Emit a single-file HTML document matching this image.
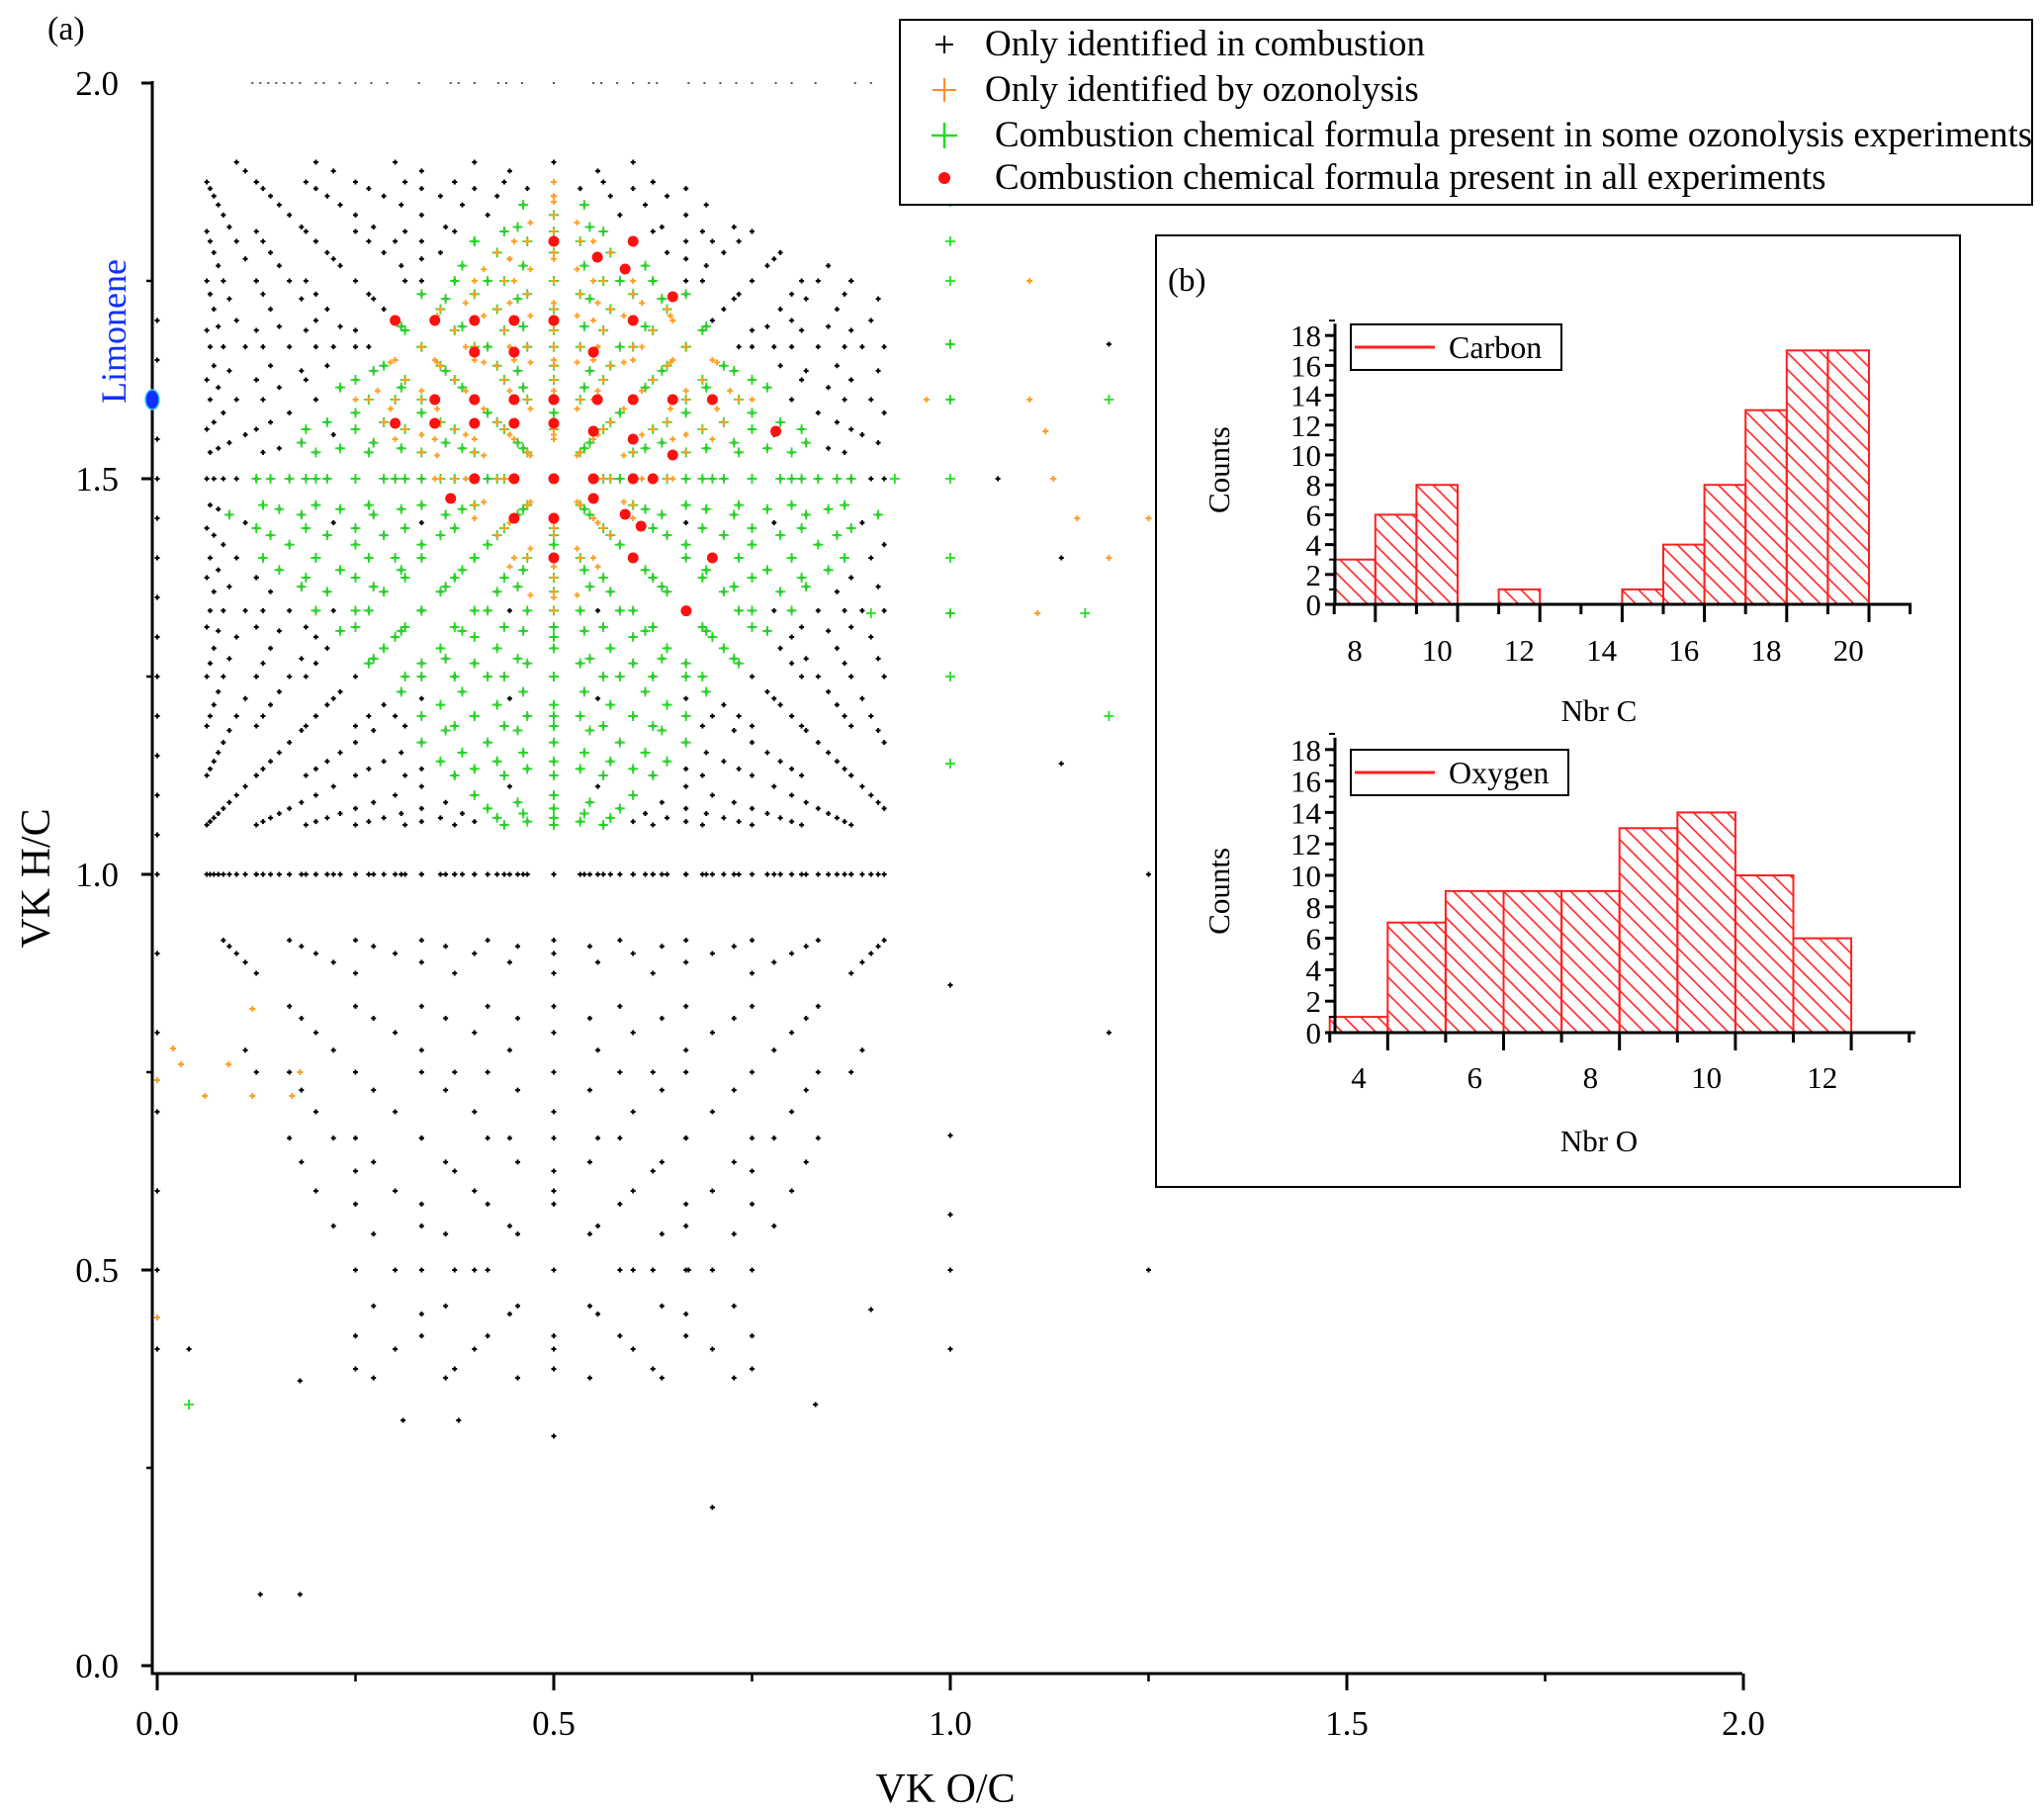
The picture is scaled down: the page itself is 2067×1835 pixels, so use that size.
<!DOCTYPE html>
<html><head><meta charset="utf-8">
<style>
html,body{margin:0;padding:0;background:#fff;}
svg{display:block;font-family:"Liberation Serif",serif;}
</style></head>
<body>
<svg id="chart" width="2067" height="1835" viewBox="0 0 2067 1835" xmlns="http://www.w3.org/2000/svg">
<defs>
<pattern id="hatch" patternUnits="userSpaceOnUse" width="12" height="12" patternTransform="rotate(45)">
<line x1="0" y1="6" x2="12" y2="6" stroke="#ff2020" stroke-width="1.6"/>
</pattern>
</defs>
<g id="main"></g>
<g id="legend">
<rect x="910" y="20" width="1145" height="187" fill="#fff" stroke="#000" stroke-width="2"/>
<g>
<path d="M946 45h18M955 36v18" stroke="#000" stroke-width="2"/>
<text x="996" y="56" font-size="37">Only identified in combustion</text></g>
<g>
<path d="M943 91h24M955 79v24" stroke="#ff8a30" stroke-width="2"/>
<text x="996" y="102" font-size="37">Only identified by ozonolysis</text></g>
<g>
<path d="M942 137h26M955 124v26" stroke="#22dd22" stroke-width="2.5"/>
<text x="1006" y="148" font-size="37">Combustion chemical formula present in some ozonolysis experiments</text></g>
<g>
<circle cx="955" cy="180" r="6" fill="#ff1010"/>
<text x="1006" y="191" font-size="37">Combustion chemical formula present in all experiments</text></g>
</g>
<g id="inset"></g>
</svg>
<script>
// ---------- data ----------
const carbonNumbers=[8,9,10,11,12,13,14,15,16];
const greenCarbonNumbers=[10,11,12,13,14,15,16];
const orangeCarbonNumbers=[14,15,16,17,18,20];
const redOC=[0.30,0.35,0.40,0.45,0.50,0.555,0.59,0.60,0.65,0.60,0.55,0.50,0.45,0.40,0.35,0.40,0.45,0.50,0.555,0.60,0.65,0.70,0.78,0.65,0.60,0.55,0.50,0.45,0.40,0.35,0.30,0.40,0.45,0.50,0.55,0.60,0.625,0.37,0.45,0.50,0.55,0.59,0.61,0.70,0.60,0.50,0.667];
const redHC=[1.70,1.70,1.70,1.66,1.80,1.78,1.765,1.80,1.73,1.70,1.66,1.70,1.70,1.66,1.60,1.60,1.60,1.60,1.60,1.60,1.60,1.60,1.56,1.53,1.55,1.56,1.57,1.57,1.57,1.57,1.57,1.50,1.50,1.50,1.50,1.50,1.50,1.475,1.45,1.45,1.475,1.455,1.44,1.40,1.40,1.40,1.333];
const topRowOC=[0.12,0.13,0.14,0.15,0.16,0.17,0.18,0.2,0.21,0.23,0.25,0.27,0.29,0.33,0.37,0.38,0.4,0.43,0.44,0.46,0.5,0.55,0.56,0.58,0.6,0.62,0.63,0.67,0.69,0.71,0.73,0.75,0.78,0.8,0.83,0.88,0.9,1.2,1.33];
const extraBlackOC=[0,0,0,0,0,0,0,0,0,0,0,0,0,0,0,0,0,0,0,0,1.0,1.0,1.0,1.0,1.0,1.0,1.0,1.0,1.0,1.2,1.2,1.25,1.25,1.17,1.14,1.33,1.33,0.7,0.13,0.18,0.31,0.38,0.83,0.04,0.18,0.5,0.9,0.67,1.14,1.06];
const extraBlackHC=[0.4,0.5,0.6,0.7,0.8,0.9,1.0,1.05,1.1,1.15,1.2,1.25,1.3,1.35,1.4,1.45,1.5,1.55,1.65,1.7,1.85,1.67,1.6,1.33,0.86,0.67,0.57,0.5,0.4,1.67,0.8,1.0,0.5,1.85,1.14,1.33,0.67,0.2,0.09,0.09,0.31,0.31,0.33,0.4,0.36,0.29,0.45,0.5,1.4,1.5];
const extraOrangeOC=[0,0.02,0.03,0.06,0.09,0.12,0.12,0.17,0.18,0.0,1.1,1.12,1.13,1.11,1.16,1.2,1.25,1.28,1.3,0.97,1.1];
const extraOrangeHC=[0.74,0.78,0.76,0.72,0.76,0.72,0.83,0.72,0.75,0.44,1.6,1.56,1.5,1.33,1.45,1.4,1.45,1.43,1.4,1.6,1.75];
const extraGreenOC=[1.0,1.0,1.0,1.0,1.0,1.0,1.0,1.0,1.0,1.0,1.2,1.2,1.17,0.04,0.9,0.93];
const extraGreenHC=[1.8,1.75,1.67,1.6,1.5,1.4,1.33,1.25,1.14,1.85,1.6,1.2,1.33,0.33,1.33,1.5];
const carbonBins=[8,9,10,12,15,16,17,18,19,20];
const carbonCounts=[3,6,8,1,1,4,8,13,17,17];
const oxygenBins=[4,5,6,7,8,9,10,11,12];
const oxygenCounts=[1,7,9,9,9,13,14,10,6];
const yTicks=[0,0.5,1.0,1.5,2.0];
const xTicks=[0,0.5,1.0,1.5,2.0];
const histYTicks=[0,2,4,6,8,10,12,14,16,18];
const carbonXTicks=[8,10,12,14,16,18,20];
const oxygenXTicks=[4,6,8,10,12];

const NS="http://www.w3.org/2000/svg";
function mk(parent,tag,attrs,name,text){
  const e=document.createElementNS(NS,tag);
  for(const k in attrs)e.setAttribute(k,attrs[k]);
  
  
  if(text!==undefined)e.textContent=text;
  parent.appendChild(e);return e;
}
const xs=v=>159+v*802;
const ys=v=>1684-v*800;
const main=document.getElementById('main');

// axes
mk(main,'line',{x1:154,y1:82,x2:154,y2:1693,stroke:'#000','stroke-width':3},'y-axis-line');
mk(main,'line',{x1:153,y1:1692,x2:1762,y2:1692,stroke:'#000','stroke-width':3},'x-axis-line');
yTicks.forEach(t=>{
  mk(main,'line',{x1:143,y1:ys(t),x2:154,y2:ys(t),stroke:'#000','stroke-width':3},'y-tick');
  mk(main,'text',{x:120,y:ys(t)+12,'font-size':35,'text-anchor':'end'},'y-tick-label',t.toFixed(1));
});
[0.25,0.75,1.25,1.75].forEach(t=>mk(main,'line',{x1:148,y1:ys(t),x2:154,y2:ys(t),stroke:'#000','stroke-width':2.5},'y-minor-tick'));
xTicks.forEach(t=>{
  mk(main,'line',{x1:xs(t),y1:1692,x2:xs(t),y2:1709,stroke:'#000','stroke-width':3},'x-tick');
  mk(main,'text',{x:xs(t),y:1754,'font-size':35,'text-anchor':'middle'},'x-tick-label',t.toFixed(1));
});
[0.25,0.75,1.25,1.75].forEach(t=>mk(main,'line',{x1:xs(t),y1:1692,x2:xs(t),y2:1700,stroke:'#000','stroke-width':2.5},'x-minor-tick'));
mk(main,'text',{x:956,y:1822,'font-size':42,'text-anchor':'middle'},'x-axis-title','VK O/C');
mk(main,'text',{x:0,y:0,'font-size':42,'text-anchor':'middle',transform:'translate(50,888) rotate(-90)'},'y-axis-title','VK H/C');
mk(main,'text',{x:48,y:40,'font-size':34},'panel-label-a','(a)');
mk(main,'text',{x:0,y:0,'font-size':36,'text-anchor':'middle',fill:'#1030ff',transform:'translate(127,335) rotate(-90)'},'limonene-label','Limonene');

function plus(g,oc,hc,s,col,w,name){
  const x=xs(oc),y=ys(hc);
  mk(g,'path',{d:`M${x-s} ${y}h${2*s}M${x} ${y-s}v${2*s}`,stroke:col,'stroke-width':w},name);
}
const gBlack=mk(main,'g',{},'series-combustion-only');
carbonNumbers.forEach(c=>{
  for(let o=0;o<=c;o++)for(let h=2;h<=2*c;h++){
    const oc=o/c,hc=h/c;
    let keep=false;
    if(hc>=1&&hc<=1.9&&oc>=0.06&&oc<=0.92&&hc<=1.9-0.5*Math.max(0,oc-0.6))keep=true;
    if(hc<1&&hc>=0.35&&c<=12&&Math.abs(oc-0.5)<=0.12+0.35*hc)keep=true;
    if(keep)plus(gBlack,oc,hc,2.5,'#000',2,'combustion-point');
  }
});
extraBlackOC.forEach((v,i)=>plus(gBlack,v,extraBlackHC[i],2.5,'#000',2,'combustion-point'));
topRowOC.forEach(v=>mk(gBlack,'rect',{x:xs(v)-1,y:ys(2.0)-1,width:2,height:2,fill:'#555'},'top-row-point'));

const gGreen=mk(main,'g',{},'series-some-experiments');
greenCarbonNumbers.forEach(c=>{
  for(let o=0;o<=c;o++)for(let h=2;h<=2*c;h++){
    const oc=o/c,hc=h/c;
    if(Math.abs(oc-0.5)/0.42+Math.abs(hc-1.45)/0.47<=1.0&&hc<=1.85&&hc>=1.02)plus(gGreen,oc,hc,5,'#22dd22',1.8,'some-experiments-point');
  }
});
extraGreenOC.forEach((v,i)=>plus(gGreen,v,extraGreenHC[i],5,'#22dd22',1.8,'some-experiments-point'));

const gOrange=mk(main,'g',{},'series-ozonolysis-only');
orangeCarbonNumbers.forEach(c=>{
  for(let o=0;o<=c;o++)for(let h=2;h<=2*c;h++){
    const oc=o/c,hc=h/c;
    if(Math.abs(oc-0.5)/0.25+Math.abs(hc-1.6)/0.28<=1.0)plus(gOrange,oc,hc,3,'#ffa020',2,'ozonolysis-point');
  }
});
extraOrangeOC.forEach((v,i)=>plus(gOrange,v,extraOrangeHC[i],3,'#ffa020',2,'ozonolysis-point'));

const gRed=mk(main,'g',{},'series-all-experiments');
redOC.forEach((v,i)=>mk(gRed,'circle',{cx:xs(v),cy:ys(redHC[i]),r:5.5,fill:'#ff1010'},'all-experiments-point'));
mk(main,'ellipse',{cx:154,cy:ys(1.6),rx:7,ry:10,fill:'#1030ff',stroke:'#40d0ff','stroke-width':1.5},'limonene-point');

// ---------- inset ----------
const inset=document.getElementById('inset');
mk(inset,'rect',{x:1169,y:238,width:813,height:962,fill:'#fff',stroke:'#000','stroke-width':2},'inset-frame');
mk(inset,'text',{x:1181,y:294,'font-size':33},'panel-label-b','(b)');

function hist(opts){
  const g=mk(inset,'g',{},opts.name);
  const {x0,xTick0,unit,yBase,yUnit,bins,counts,xticks,xEnd,label,legendW,legendY,title,titleY,ticksLabelY}=opts;
  const hx=v=>xTick0+(v-opts.t0)*unit;
  const hy=v=>yBase-v*yUnit;
  bins.forEach((b,i)=>{
    mk(g,'rect',{x:hx(b-0.5),y:hy(counts[i]),width:unit,height:counts[i]*yUnit,fill:'url(#hatch)',stroke:'#ff2020','stroke-width':2},'histogram-bar');
  });
  mk(g,'line',{x1:x0,y1:hy(18)-12,x2:x0,y2:yBase+1,stroke:'#000','stroke-width':3},'hist-y-axis');
  mk(g,'line',{x1:x0-1,y1:yBase,x2:xEnd,y2:yBase,stroke:'#000','stroke-width':3},'hist-x-axis');
  histYTicks.forEach(t=>{
    mk(g,'line',{x1:x0-10,y1:hy(t),x2:x0,y2:hy(t),stroke:'#000','stroke-width':3},'hist-y-tick');
    mk(g,'text',{x:x0-14,y:hy(t)+11,'font-size':31,'text-anchor':'end'},'hist-y-tick-label',String(t));
    mk(g,'line',{x1:x0-6,y1:hy(t+1),x2:x0,y2:hy(t+1),stroke:'#000','stroke-width':2},'hist-y-minor-tick');
  });
  for(let v=opts.t0-0.5;hx(v)<=xEnd+1;v+=1){
    mk(g,'line',{x1:hx(v),y1:yBase,x2:hx(v),y2:yBase+ (Math.abs((v-opts.t0-0.5)%2)<0.01?18:10),stroke:'#000','stroke-width':3},'hist-x-tick');
  }
  xticks.forEach(t=>mk(g,'text',{x:hx(t),y:ticksLabelY,'font-size':31,'text-anchor':'middle'},'hist-x-tick-label',String(t)));
  mk(g,'text',{x:0,y:0,'font-size':31,'text-anchor':'middle',transform:`translate(1243,${hy(9)}) rotate(-90)`},'hist-y-axis-title','Counts');
  mk(g,'text',{x:1617,y:titleY,'font-size':31,'text-anchor':'middle'},'hist-x-axis-title',title);
  mk(g,'rect',{x:1366,y:legendY,width:legendW,height:46,fill:'#fff',stroke:'#000','stroke-width':2},'hist-legend');
  mk(g,'line',{x1:1370,y1:legendY+23,x2:1451,y2:legendY+23,stroke:'#ff2020','stroke-width':3},'hist-legend-line');
  mk(g,'text',{x:1465,y:legendY+34,'font-size':32},'hist-legend-label',label);
}
hist({name:'carbon-histogram',x0:1350,xTick0:1370,t0:8,unit:41.6,yBase:611,yUnit:15.1,bins:carbonBins,counts:carbonCounts,xticks:carbonXTicks,xEnd:1933,label:'Carbon',legendW:213,legendY:328,title:'Nbr C',titleY:729,ticksLabelY:668});
hist({name:'oxygen-histogram',x0:1350,xTick0:1374,t0:4,unit:58.6,yBase:1044,yUnit:15.9,bins:oxygenBins,counts:oxygenCounts,xticks:oxygenXTicks,xEnd:1937,label:'Oxygen',legendW:220,legendY:758,title:'Nbr O',titleY:1164,ticksLabelY:1100});
</script>
</body></html>
